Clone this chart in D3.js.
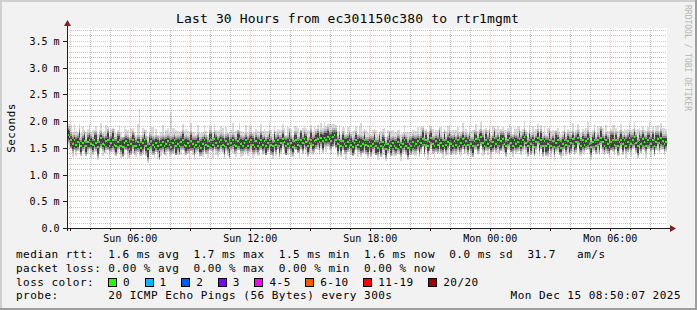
<!DOCTYPE html>
<html><head><meta charset="utf-8">
<script src="https://cdn.jsdelivr.net/npm/d3@7/dist/d3.min.js"></script>
<style>
html,body{margin:0;padding:0;background:#f2f2f2;}
svg{display:block;}
text{font-family:"DejaVu Sans Mono",monospace;fill:#000;white-space:pre;}
</style>
</head><body>
<svg id="chart" width="697" height="310"></svg>
<script>
// ---------------- data ----------------
const chartTitle = "Last 30 Hours from ec301150c380 to rtr1mgmt";
const yAxisTitle = "Seconds";
const watermark = "RRDTOOL / TOBI OETIKER";
const startTime = "2025-12-14T02:50:07";
const endTime   = "2025-12-15T08:50:07";
const stepSeconds = 300;
const yMaxMs = 3.74;
const yTickValues = [0, 0.5, 1.0, 1.5, 2.0, 2.5, 3.0, 3.5];
const yTickLabels = ["0.0", "0.5 m", "1.0 m", "1.5 m", "2.0 m", "2.5 m", "3.0 m", "3.5 m"];
const xTickTimes  = ["2025-12-14T06:00:00", "2025-12-14T12:00:00", "2025-12-14T18:00:00", "2025-12-15T00:00:00", "2025-12-15T06:00:00"];
const xTickLabels = ["Sun 06:00", "Sun 12:00", "Sun 18:00", "Mon 00:00", "Mon 06:00"];

// median RTT per 5-minute step, in 1/100 ms
const rttMedian = [
174,170,165,157,164,156,161,167,154,159,162,153,161,165,157,156,164,159,151,161,168,157,156,162,165,154,159,164,156,153,
161,165,154,151,159,162,156,148,157,164,154,153,161,156,150,159,164,154,147,157,162,156,151,159,154,145,156,161,153,157,
162,156,151,159,164,154,157,153,161,165,156,153,159,154,162,157,151,156,161,154,150,157,164,156,153,162,165,156,167,159,
154,161,164,156,153,162,157,150,159,165,156,154,162,167,157,153,159,164,154,161,165,156,151,162,154,159,164,156,162,153,
159,165,156,153,162,156,164,154,159,167,161,153,157,164,159,151,162,165,156,154,164,159,167,161,153,159,165,156,162,164,
166,160,168,163,169,165,171,167,163,170,173,165,157,164,154,162,157,153,161,165,156,151,159,164,156,161,153,157,164,156,
154,161,153,157,162,154,150,159,153,161,156,148,157,162,153,159,154,150,161,156,151,157,164,154,150,157,153,161,154,157,
162,154,159,167,156,164,153,161,168,157,154,162,156,165,159,153,164,156,161,170,157,153,162,156,164,153,159,167,156,162,
156,164,157,153,162,167,156,164,170,159,154,165,157,164,153,161,168,157,164,154,162,167,157,153,164,168,159,154,164,157,
161,167,154,164,170,159,154,165,157,164,151,161,168,157,164,154,162,153,157,165,154,162,151,159,164,154,150,157,164,156,
162,153,159,167,154,161,168,157,153,164,156,162,167,157,151,161,165,154,164,157,168,161,154,164,157,151,161,165,156,164,
154,161,165,157,164,154,161,168,157,164,170,159,154,164,157,167,161,154,164,168,157,164,154,161,167,159,168,162,157,161];

// slowest ping above the median (1/100 ms)
const smokeUp = [
20,24,27,22,30,25,19,28,23,31,21,26,24,29,22,27,20,32,25,23,28,21,26,30,24,19,27,23,29,25,
22,28,25,19,31,24,27,21,29,23,26,20,33,69,24,28,22,30,25,21,27,32,23,26,20,29,24,31,22,27,
25,21,66,28,23,30,24,27,21,29,25,32,22,26,35,23,28,20,31,24,27,22,29,25,21,30,26,23,28,24,
28,23,26,31,22,27,20,29,25,32,23,27,21,30,24,26,19,28,23,31,25,22,29,24,27,21,30,25,23,28,
23,31,27,22,29,25,21,30,24,28,26,20,32,23,27,22,29,25,31,24,20,28,23,26,30,22,27,24,29,21,
26,22,29,24,30,26,23,28,31,25,22,27,24,29,21,26,30,23,28,25,22,31,24,27,20,29,43,25,22,28,
24,29,22,27,23,30,25,21,28,24,31,22,26,20,29,25,23,30,22,27,24,21,28,25,30,23,26,22,29,24,
27,22,30,24,28,21,26,31,23,29,25,22,28,24,30,27,21,26,29,23,25,31,22,28,24,27,20,29,25,23,
22,27,25,30,23,28,26,21,29,24,31,22,27,25,20,29,23,28,26,31,24,22,27,30,23,26,29,22,25,28,
29,24,27,22,30,25,23,28,21,27,31,24,26,22,29,25,28,23,30,24,27,22,31,25,23,28,26,24,29,22,
24,28,23,30,25,22,27,29,24,21,28,25,31,23,26,22,29,24,27,30,23,26,21,28,25,30,24,27,37,23,
27,23,29,25,22,30,24,28,26,21,29,25,31,23,27,24,22,28,25,30,24,27,23,29,26,22,28,25,30,24];

// fastest ping below the median (1/100 ms)
const smokeDown = [
18,22,16,24,19,21,17,25,20,15,23,18,22,16,26,19,21,17,24,20,18,23,16,22,19,25,17,21,20,18,
21,17,24,19,22,16,25,18,20,23,17,21,19,24,16,22,18,20,26,17,23,19,21,16,24,18,22,20,17,23,
19,23,17,21,25,18,20,16,24,19,22,17,21,26,18,20,23,17,19,22,16,24,20,18,23,17,21,25,19,22,
22,18,21,16,24,19,23,20,17,25,18,22,16,21,24,19,17,23,20,18,22,26,17,21,19,24,18,20,23,17,
17,21,19,24,18,22,16,25,20,18,23,17,21,19,26,18,22,20,16,24,19,21,17,23,20,18,25,19,22,16,
20,24,18,22,17,23,19,21,25,18,20,16,24,19,22,17,21,26,18,23,20,17,22,19,24,18,21,16,23,20,
23,17,21,19,24,18,22,16,20,25,19,23,17,21,18,24,20,16,22,19,25,18,21,17,23,20,16,24,19,22,
18,22,20,16,23,19,25,17,21,18,24,20,16,22,19,23,17,21,25,18,20,16,23,19,22,17,24,20,18,21,
21,18,24,20,17,22,19,23,16,25,18,21,20,17,24,19,22,16,23,20,18,25,17,21,19,23,16,22,20,18,
19,23,17,21,25,18,22,16,20,24,17,21,19,23,16,22,20,18,24,17,21,19,25,16,22,18,20,23,17,21,
22,17,20,24,18,21,16,23,19,25,20,17,22,18,24,19,21,16,23,20,18,22,17,24,19,21,16,23,20,18,
20,24,18,21,16,23,19,22,25,17,21,18,24,20,16,22,19,23,17,21,25,18,20,16,23,19,22,17,21,19];

// dense core of the pings above / below the median (1/100 ms)
const coreUp = [
9,12,7,10,6,11,8,13,7,9,11,6,10,8,12,7,9,14,8,10,6,11,9,7,12,8,10,13,7,9,
11,7,9,13,8,6,10,12,7,9,14,8,6,11,9,7,12,10,8,13,6,9,11,7,10,14,8,6,12,9,
7,10,13,8,6,11,9,12,7,10,8,14,6,9,11,7,13,8,10,6,12,9,7,11,8,13,10,6,9,12,
10,8,6,12,9,7,13,10,8,6,11,9,14,7,10,12,8,6,11,9,7,13,10,8,12,6,9,11,7,10,
8,11,9,6,13,10,7,12,8,9,6,11,10,13,7,9,12,8,6,10,14,7,9,11,8,6,12,10,7,9,
12,9,7,11,8,13,10,6,12,9,7,14,8,10,6,11,9,13,7,8,12,10,6,9,11,7,13,8,10,6,
9,6,11,8,12,7,10,13,6,9,11,8,7,12,10,6,9,13,8,11,7,10,6,12,9,8,11,7,13,10,
7,11,9,13,6,10,8,12,9,7,11,6,10,14,8,9,12,7,10,6,11,13,8,9,7,12,10,6,11,8,
11,8,6,10,13,7,9,12,8,11,6,10,9,13,7,8,12,10,6,9,11,7,14,8,10,6,9,12,7,11,
6,10,12,8,9,13,7,11,10,6,12,8,9,7,13,10,6,11,8,12,9,7,10,14,6,8,11,9,12,7,
10,13,8,6,11,9,7,12,10,8,13,6,9,11,7,10,12,8,6,9,14,7,11,8,10,6,12,9,7,10,
8,7,11,10,6,12,9,8,13,7,10,11,6,9,12,8,7,13,10,6,9,11,8,12,7,10,9,6,11,8];
const coreDown = [
8,6,11,9,13,7,10,6,12,8,7,11,9,13,6,10,8,7,12,9,11,6,10,8,13,7,9,11,6,10,
7,10,8,12,6,11,9,7,13,8,10,6,12,9,7,11,8,10,14,6,9,12,7,10,8,13,6,9,11,7,
10,8,6,11,9,13,7,10,8,12,6,9,11,7,13,8,10,6,9,12,7,11,8,10,6,9,13,7,11,8,
6,11,9,7,12,8,10,14,6,9,11,7,8,13,10,6,9,12,7,11,8,10,6,13,9,7,11,8,10,12,
9,7,12,10,6,11,8,13,9,7,10,12,6,9,11,8,7,13,10,6,9,12,8,7,11,10,6,9,13,8,
7,10,8,13,9,6,11,8,10,12,7,9,13,6,10,8,11,7,12,9,6,10,13,8,7,11,9,12,6,10,
11,8,10,6,9,13,7,10,12,8,6,11,9,7,13,10,8,6,12,9,11,7,10,8,13,6,9,11,7,10,
8,12,7,10,13,6,9,11,8,10,7,13,9,6,11,8,12,10,7,9,13,6,10,8,11,7,9,12,8,6,
10,7,9,12,6,11,8,13,10,7,9,12,6,10,8,11,13,7,9,6,12,10,8,11,7,9,13,6,10,8,
9,12,7,10,8,6,11,9,13,7,10,8,6,12,9,11,7,10,13,8,6,9,11,7,10,12,8,6,9,11,
7,10,12,8,9,11,6,10,8,13,7,9,11,6,10,8,12,9,7,11,6,10,8,12,9,7,11,13,8,9,
10,8,6,11,9,7,12,10,8,6,11,9,13,7,10,12,8,6,9,11,7,10,12,8,6,9,11,7,10,8];

const lossLabels = ["0", "1", "2", "3", "4-5", "6-10", "11-19", "20/20"];
const lossColors = ["#26ff00", "#00b8ff", "#0059ff", "#7e00ff", "#ff00ff", "#ff5500", "#ff0000", "#a10000"];
const legendRtt   = "median rtt:  1.6 ms avg  1.7 ms max  1.5 ms min  1.6 ms now  0.0 ms sd  31.7   am/s";
const legendLoss  = "packet loss: 0.00 % avg  0.00 % max  0.00 % min  0.00 % now";
const legendColor = "loss color:";
const legendProbe = "probe:       20 ICMP Echo Pings (56 Bytes) every 300s";
const legendStamp = "Mon Dec 15 08:50:07 2025";

// ---------------- drawing ----------------
const W = 697, H = 310;
const P = {l: 67, r: 667, t: 28, b: 228};
const svg = d3.select("#chart");
const parse = d3.timeParse("%Y-%m-%dT%H:%M:%S");
const t0 = parse(startTime), t1 = parse(endTime);
const x = d3.scaleTime().domain([t0, t1]).range([P.l, P.r]);
const y = d3.scaleLinear().domain([0, yMaxMs]).range([P.b, P.t]);

// background + 3D frame
svg.append("rect").attr("width", W).attr("height", H).attr("fill", "#f2f2f2");
svg.append("path").attr("d", `M0,0H${W}V2H2V${H}H0Z`).attr("fill", "#cfcfcf");
svg.append("path").attr("d", `M${W},${H}H0V${H-2}H${W-2}V0H${W}Z`).attr("fill", "#9e9e9e");

// canvas
svg.append("rect").attr("x", P.l).attr("y", P.t).attr("width", P.r - P.l).attr("height", P.b - P.t).attr("fill", "#fff");

const N = rttMedian.length;
const steps = d3.range(N).map(i => {
  const ta = new Date(+t0 + i * stepSeconds * 1000);
  const tb = new Date(+ta + stepSeconds * 1000);
  const m = rttMedian[i];
  return {
    ta, tb,
    med: m / 100,
    max: (m + (smokeUp[i] || 0)) / 100,
    min: (m - (smokeDown[i] || 0)) / 100,
    hi: (m + (coreUp[i] || 0)) / 100,
    lo: (m - (coreDown[i] || 0)) / 100
  };
});

const smoke = svg.append("g").attr("shape-rendering", "crispEdges");
function band(top, bot, color, pad) {
  smoke.append("g").selectAll("rect").data(steps).join("rect")
    .attr("x", d => x(d.ta))
    .attr("width", d => x(d.tb) - x(d.ta))
    .attr("y", d => Math.max(y(d.max), y(d[top]) - pad))
    .attr("height", d => {
      const a = Math.max(y(d.max), y(d[top]) - pad), b = Math.min(y(d.min), y(d[bot]) + pad);
      return Math.max(1, b - a);
    })
    .attr("fill", color);
}
band("max", "min", "#dadada", 0);
band("hi", "lo", "#bababa", 4);
band("hi", "lo", "#8a8a8a", 2);
band("hi", "lo", "#424242", 0);
// median, coloured by packet loss (0 lost)
smoke.append("g").selectAll("rect").data(steps).join("rect")
  .attr("x", d => x(d.ta))
  .attr("width", d => x(d.tb) - x(d.ta))
  .attr("y", d => y(d.med) - 1)
  .attr("height", 2)
  .attr("fill", lossColors[0]);

// grid
const grid = svg.append("g").attr("shape-rendering", "crispEdges");
const px = v => Math.round(v) + 0.5;
const minorY = d3.range(1, Math.floor(yMaxMs * 10) + 1).map(k => k / 10).filter(v => Math.round(v * 10) % 5 !== 0);
const minorX = d3.timeHour.range(t0, t1).filter(t => t.getHours() % 3 !== 0);
const majorX = d3.timeHour.every(3).range(t0, t1);
const minorCol = "rgba(143,143,143,0.55)", majorCol = "rgba(222,79,79,0.34)";
grid.selectAll(".gy").data(minorY).join("line")
  .attr("x1", P.l).attr("x2", P.r).attr("y1", d => px(y(d))).attr("y2", d => px(y(d)))
  .attr("stroke", minorCol).attr("stroke-dasharray", "1,1");
grid.selectAll(".gx").data(minorX).join("line")
  .attr("y1", P.t).attr("y2", P.b).attr("x1", d => px(x(d))).attr("x2", d => px(x(d)))
  .attr("stroke", minorCol).attr("stroke-dasharray", "1,1");
grid.selectAll(".my").data(yTickValues.slice(1)).join("line")
  .attr("x1", P.l - 4).attr("x2", P.r).attr("y1", d => px(y(d))).attr("y2", d => px(y(d)))
  .attr("stroke", majorCol).attr("stroke-dasharray", "1,1");
grid.selectAll(".mx").data(majorX).join("line")
  .attr("y1", P.t).attr("y2", P.b).attr("x1", d => px(x(d))).attr("x2", d => px(x(d)))
  .attr("stroke", majorCol).attr("stroke-dasharray", "1,1");

// axes
const axisCol = "#1f1f1f", arrowCol = "#801f1f";
const ax = svg.append("g").attr("shape-rendering", "crispEdges");
ax.append("line").attr("x1", P.l - 4).attr("x2", P.r + 4).attr("y1", P.b + 0.5).attr("y2", P.b + 0.5).attr("stroke", axisCol);
ax.append("line").attr("x1", P.l + 0.5).attr("x2", P.l + 0.5).attr("y1", P.b + 3).attr("y2", P.t - 2).attr("stroke", axisCol);
ax.selectAll(".tx").data(majorX).join("line")
  .attr("x1", d => px(x(d))).attr("x2", d => px(x(d))).attr("y1", P.b).attr("y2", P.b + 3).attr("stroke", axisCol);
ax.selectAll(".ty").data(minorX).join("line")
  .attr("x1", d => px(x(d))).attr("x2", d => px(x(d))).attr("y1", P.b).attr("y2", P.b + 2).attr("stroke", axisCol);
ax.selectAll(".tyy").data(yTickValues).join("line")
  .attr("x1", P.l - 4).attr("x2", P.l).attr("y1", d => px(y(d))).attr("y2", d => px(y(d))).attr("stroke", axisCol);
svg.append("path").attr("d", `M${P.r + 3},${P.b - 3}L${P.r + 9},${P.b + 0.5}L${P.r + 3},${P.b + 4}Z`).attr("fill", arrowCol);
svg.append("path").attr("d", `M${P.l - 3},${P.t - 2}L${P.l + 0.5},${P.t - 8}L${P.l + 4},${P.t - 2}Z`).attr("fill", arrowCol);

// tick labels
svg.append("g").selectAll("text").data(yTickValues).join("text")
  .attr("x", 59.5).attr("y", d => y(d) + 4).attr("text-anchor", "end")
  .style("font-size", "10px").text((d, i) => yTickLabels[i]);
svg.append("g").selectAll("text").data(xTickTimes).join("text")
  .attr("x", d => x(parse(d))).attr("y", 241.5).attr("text-anchor", "middle")
  .style("font-size", "10px").text((d, i) => xTickLabels[i]);

// titles
svg.append("text").attr("x", 347.5).attr("y", 23).attr("text-anchor", "middle")
  .style("font-size", "13px").style("letter-spacing", "0.15px").text(chartTitle);
svg.append("text").attr("transform", `translate(15,${(P.t + P.b) / 2}) rotate(-90)`).attr("text-anchor", "middle")
  .style("font-size", "11px").style("letter-spacing", "0.48px").text(yAxisTitle);
svg.append("text").attr("transform", "translate(684.5,5) rotate(90)")
  .style("font-size", "8px").style("fill", "#b4b4b4").text(watermark);

// legend
const lg = svg.append("g").style("font-size", "11px").style("letter-spacing", "0.48px");
const rows = [legendRtt, legendLoss, legendColor, legendProbe];
const baselines = [258, 271.5, 285.5, 299];
rows.forEach((r, i) => lg.append("text").attr("x", 16).attr("y", baselines[i]).text(r));
lg.append("text").attr("x", 681).attr("y", baselines[3]).attr("text-anchor", "end").text(legendStamp);
let bx = 108.5;
lossLabels.forEach((lab, i) => {
  lg.append("rect").attr("x", bx).attr("y", 278.5).attr("width", 8).attr("height", 8)
    .attr("fill", lossColors[i]).attr("stroke", "#000").attr("shape-rendering", "crispEdges");
  const t = lg.append("text").attr("x", bx + 14.5).attr("y", baselines[2]).text(lab);
  bx = bx + 14.5 + t.node().getComputedTextLength() + 15;
});
</script>
</body></html>
